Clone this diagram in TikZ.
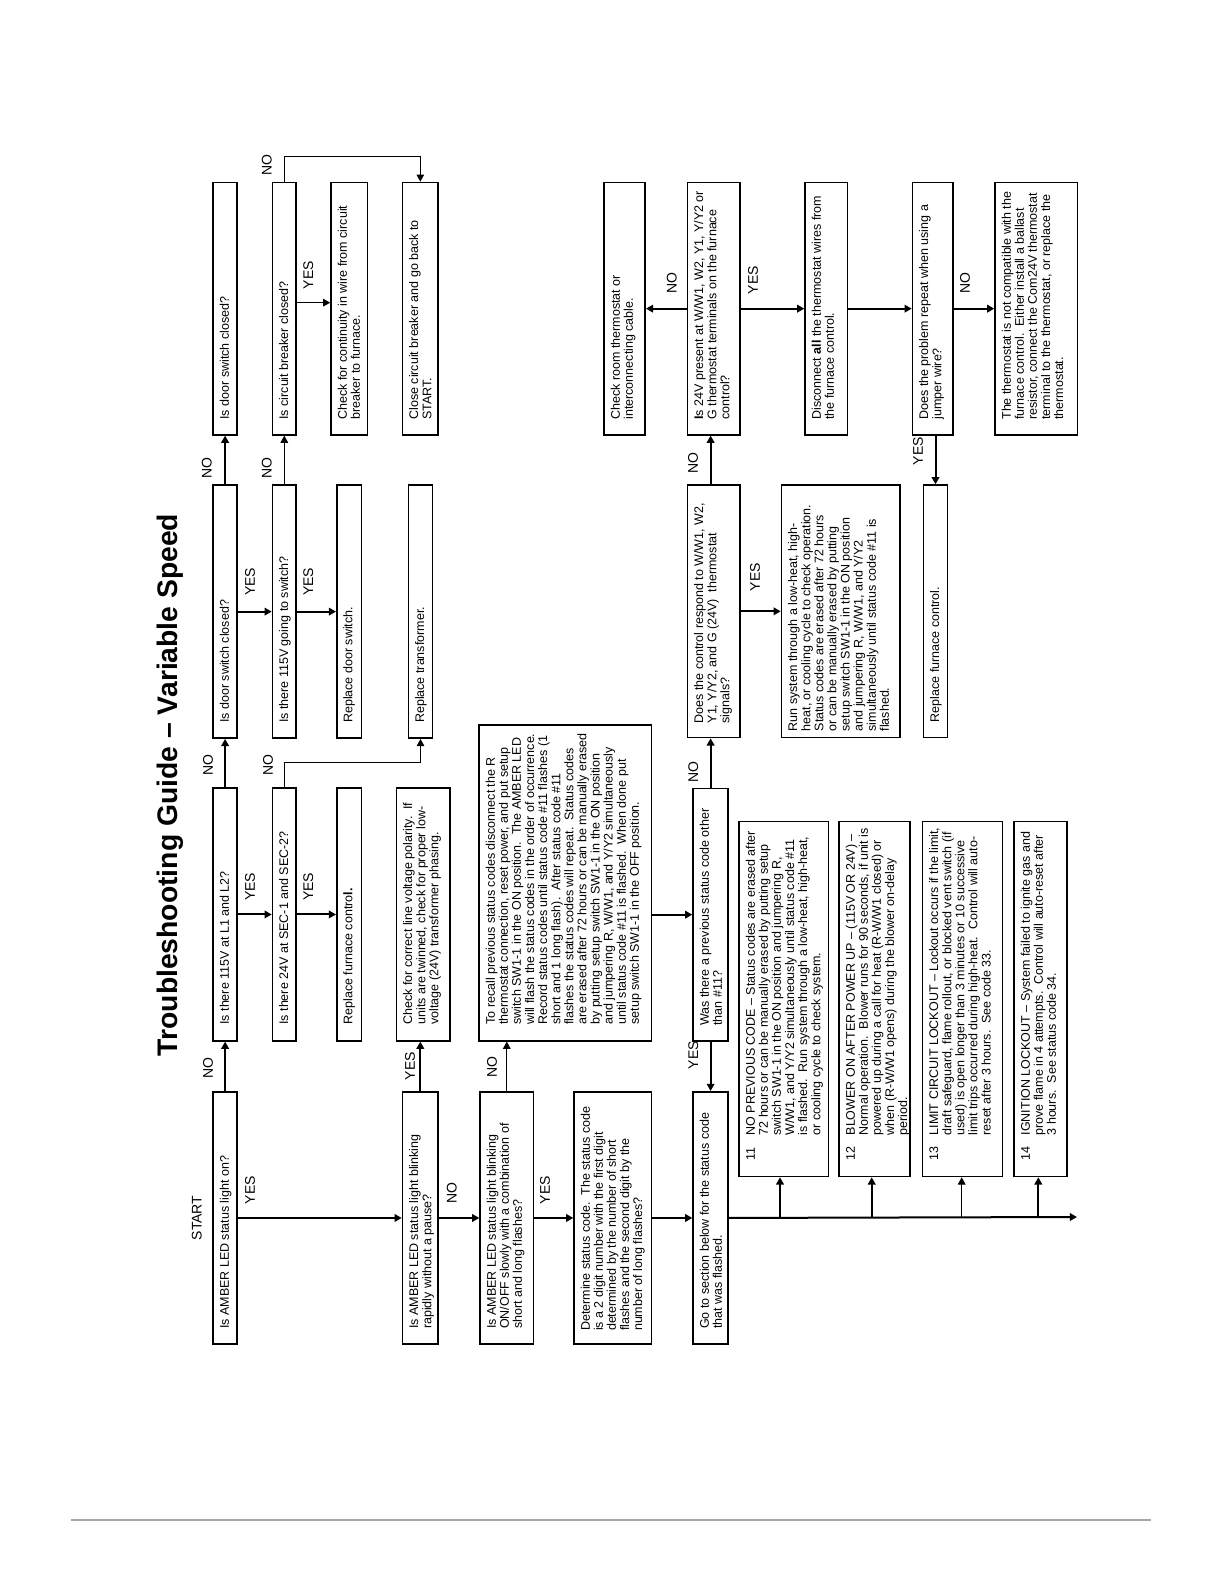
\documentclass[tikz,border=0pt]{standalone}
\usepackage{fontspec}
\setmainfont{Liberation Sans}
\usetikzlibrary{arrows.meta}
\tikzset{
  boxst/.style={draw, line width=0.8pt, inner sep=0pt, anchor=north west},
  txtst/.style={rotate=90, anchor=north west, inner sep=0pt, align=left, font=\fontsize{6.25}{6.55}\selectfont},
  lbl/.style={rotate=90, font=\fontsize{7}{8}\selectfont, inner sep=0pt},
  arr/.style={line width=1pt, -{Triangle[length=3.6pt,width=3.8pt]}},
  tarr/.style={line width=0.5pt, -{Triangle[length=3.6pt,width=3.8pt]}},
}
\newcommand\fbx[7]{%
  \node[boxst, minimum width={(#4-#2)*0.5pt}, minimum height={(#5-#3)*0.5pt}] (#1) at (#2,#3) {};
  \node[txtst] (#1t) at (#2+7,#5-#6) {#7};
}
\newcommand\hgap{\hspace*{12.5pt}}
\begin{document}
\begin{tikzpicture}[x=0.5pt,y=-0.5pt]
\useasboundingbox[fill=white] (0,0) rectangle (1224,1584);

% title
\node[rotate=90, font=\bfseries\fontsize{14.15}{17}\selectfont, inner sep=0pt] (title) at (170,785) {Troubleshooting Guide – Variable Speed};

% bottom column
\fbx{ledon}{212.3}{1091}{236.3}{1343.3}{14}{Is AMBER LED status light on?}
\fbx{rapid}{401.7}{1091}{437.3}{1343.3}{14}{Is AMBER LED status light blinking\\rapidly without a pause?}
\fbx{slow}{479.3}{1091}{532.7}{1343.3}{14}{Is AMBER LED status light blinking\\ON/OFF slowly with a combination of\\short and long flashes?}
\fbx{determine}{573.3}{1091}{650.7}{1343.3}{12}{Determine status code.\ \ The status code\\is a 2 digit number with the first digit\\determined by the number of short\\flashes and the second digit by the\\number of long flashes?}
\fbx{goto}{692.3}{1091}{727.3}{1343.3}{14}{Go to section below for the status code\\that was flashed.}

% second column
\fbx{l1l2}{212.3}{787.3}{236.3}{1040}{15}{Is there 115V at L1 and L2?}
\fbx{sec}{271.7}{787.3}{295.3}{1040}{15}{Is there 24V at SEC-1 and SEC-2?}
\fbx{repfca}{336}{787.3}{360.7}{1040}{15}{Replace furnace contro\textbf{l.}}
\fbx{polarity}{395.7}{787.3}{449.3}{1040}{15}{Check for correct line voltage polarity.\ \ If\\units are twinned, check for proper low-\\voltage (24V) transformer phasing.}
\fbx{recall}{478.3}{724.3}{650.7}{1040}{15}{To recall previous status codes disconnect the R\\thermostat connection, reset power, and put setup\\switch SW1-1 in the ON position.\ \ The AMBER LED\\will flash the status codes in the order of occurrence.\\Record status codes until status code \#11 flashes (1\\short and 1 long flash).\ \ After status code \#11\\flashes the status codes will repeat.\ \ Status codes\\are erased after 72 hours or can be manually erased\\by putting setup switch SW1-1 in the ON position\\and jumpering R, W/W1, and Y/Y2 simultaneously\\until status code \#11 is flashed.\ \ When done put\\setup switch SW1-1 in the OFF position.}
\fbx{prev}{692.3}{787.7}{727.3}{1040}{14}{Was there a previous status code other\\than \#11?}

% third column
\fbx{doora}{212.3}{484.3}{236.3}{737.3}{14}{Is door switch closed?}
\fbx{swv}{271.7}{484.3}{295.3}{737.3}{14}{Is there 115V going to switch?}
\fbx{repdoor}{336}{484.3}{360.7}{737.3}{14}{Replace door switch.}
\fbx{reptrans}{407.7}{484.3}{431.7}{737.3}{14}{Replace transformer.}
\fbx{respond}{686.7}{484.3}{739.3}{736.7}{13}{Does the control respond to W/W1, W2,\\Y1, Y/Y2, and G (24V)\ \ thermostat\\signals?}
\fbx{runsys}{780.7}{484.3}{899}{736.7}{5}{Run system through a low-heat, high-\\heat, or cooling cycle to check operation.\\Status codes are erased after 72 hours\\or can be manually erased by putting\\setup switch SW1-1 in the ON position\\and jumpering R, W/W1, and Y/Y2\\simultaneously until status code \#11 is\\flashed.}
\fbx{repfcb}{922.7}{484.3}{946.7}{736.7}{14}{Replace furnace control.}

% top column
\fbx{doorb}{212.3}{181.7}{236.3}{434}{14}{Is door switch closed?}
\fbx{breaker}{271.7}{181.7}{295.3}{434}{14}{Is circuit breaker closed?}
\fbx{continuity}{330.3}{181.7}{366.7}{434}{14}{Check for continuity in wire from circuit\\breaker to furnace.}
\fbx{closecb}{401.7}{181.7}{437.3}{434}{14}{Close circuit breaker and go back to\\START.}
\fbx{checkstat}{603.3}{181.7}{644.3}{434}{14}{Check room thermostat or\\interconnecting cable.}
\fbx{present}{686.7}{181.7}{739.3}{434}{14}{\textbf{I}s 24V present at W/W1, W2, Y1, Y/Y2 or\\G thermostat terminals on the furnace\\control?}
\fbx{disconnect}{804.3}{181.7}{846.7}{434}{14}{Disconnect \textbf{all} the thermostat wires from\\the furnace control.}
\fbx{jumper}{911.7}{181.7}{952.3}{434}{14}{Does the problem repeat when using a\\jumper wire?}
\fbx{notcompat}{994.3}{181.7}{1076.7}{434}{14}{The thermostat is not compatible with the\\furnace control.\ \ Either install a ballast\\resistor, connect the Com24V thermostat\\terminal to the thermostat, or replace the\\thermostat.}

% status code boxes
\fbx{sa}{738.3}{820.7}{827.7}{1175.7}{15}{\makebox[12.5pt][l]{11}NO PREVIOUS CODE – Status codes are erased after\\\hgap 72 hours or can be manually erased by putting setup\\\hgap switch SW1-1 in the ON position and jumpering R,\\\hgap W/W1, and Y/Y2 simultaneously until status code \#11\\\hgap is flashed.\ \ Run system through a low-heat, high-heat,\\\hgap or cooling cycle to check system.}
\fbx{sb}{838.3}{820.7}{909.3}{1175.7}{15}{\makebox[12.5pt][l]{12}BLOWER ON AFTER POWER UP – (115V OR 24V) –\\\hgap Normal operation.\ \ Blower runs for 90 seconds, if unit is\\\hgap powered up during a call for heat (R-W/W1 closed) or\\\hgap when (R-W/W1 opens) during the blower on-delay\\\hgap period.}
\fbx{sc}{921.7}{820.7}{1001.7}{1175.7}{15}{\makebox[12.5pt][l]{13}LIMIT CIRCUIT LOCKOUT – Lockout occurs if the limit,\\\hgap draft safeguard, flame rollout, or blocked vent switch (if\\\hgap used) is open longer than 3 minutes or 10 successive\\\hgap limit trips occurred during high-heat.\ \ Control will auto-\\\hgap reset after 3 hours.\ \ See code 33.}
\fbx{sd}{1013.3}{820.7}{1066}{1175.7}{15}{\makebox[12.5pt][l]{14}IGNITION LOCKOUT – System failed to ignite gas and\\\hgap prove flame in 4 attempts.\ \ Control will auto-reset after\\\hgap 3 hours.\ \ See status code 34.}

% connectors
\draw[arr] (ledon.east) -- (rapid.west);
\draw[arr] (rapid.east) -- (slow.west);
\draw[arr] (slow.east) -- (determine.west);
\draw[arr] (determine.east) -- (goto.west);
\draw[arr] (ledon.north) -- (l1l2.south);
\draw[arr] (rapid.north) -- (rapid.north |- polarity.south);
\draw[tarr] (slow.north) -- (slow.north |- recall.south);
\draw[arr] (l1l2.east) -- (sec.west);
\draw[arr] (sec.east) -- (repfca.west);
\draw[arr] (l1l2.north) -- (doora.south);
\coordinate (gn) at (0,762.7);
\draw[tarr] (sec.north) -- (sec.north |- gn) -| (reptrans.south);
\draw[arr] (doora.east) -- (swv.west);
\draw[arr] (swv.east) -- (repdoor.west);
\draw[arr] (doora.north) -- (doorb.south);
\draw[tarr] (swv.north) -- (breaker.south);
\draw[tarr] ([yshift=3pt]breaker.east) -- ([yshift=3pt]continuity.west);
\coordinate (pr) at (0,156);
\draw[tarr] (breaker.north) -- (breaker.north |- pr) -| (closecb.north);
\draw[arr] (recall.east |- prev.west) -- (prev.west);
\draw[arr] (prev.north) -- (prev.north |- respond.south);
\draw[arr] (prev.south) -- (prev.south |- goto.north);
\draw[arr] (respond.north -| prev.north) -- (present.south -| prev.north);
\draw[arr] (respond.east) -- (runsys.west);
\draw[arr] (present.west) -- (checkstat.east);
\draw[arr] (present.east) -- (disconnect.west);
\draw[arr] (disconnect.east) -- (jumper.west);
\draw[arr] (jumper.east) -- (notcompat.west);
\draw[arr] (jumper.south -| repfcb.north) -- (repfcb.north);

% status bus
\coordinate (busend) at (1077,1217);
\coordinate (ba) at (780,1217);
\coordinate (bb) at (871.7,1217);
\coordinate (bc) at (961.7,1217);
\coordinate (bd) at (1038.3,1217);
\draw[arr] (goto.east) -- (busend);
\draw[arr] (ba) -- (ba |- sa.south);
\draw[arr] (bb) -- (bb |- sb.south);
\draw[tarr] (bc) -- (bc |- sc.south);
\draw[arr] (bd) -- (bd |- sd.south);

% labels
\node[lbl] (L0) at (196.7,1218) {START};
\node[lbl] (L1) at (250,1190) {YES};
\node[lbl] (L2) at (451.7,1193) {NO};
\node[lbl] (L3) at (545,1190) {YES};
\node[lbl] (L4) at (208,1068) {NO};
\node[lbl] (L5) at (410,1066) {YES};
\node[lbl] (L6) at (492,1067) {NO};
\node[lbl] (L7) at (250,886.7) {YES};
\node[lbl] (L8) at (308.3,886.7) {YES};
\node[lbl] (L9) at (208,765) {NO};
\node[lbl] (L10) at (268,765) {NO};
\node[lbl] (L11) at (250,581.7) {YES};
\node[lbl] (L12) at (308.3,581.7) {YES};
\node[lbl] (L13) at (206.7,468.3) {NO};
\node[lbl] (L14) at (266.7,468.3) {NO};
\node[lbl] (L15) at (308.3,275) {YES};
\node[lbl] (L16) at (266.7,165) {NO};
\node[lbl] (L17) at (693,463) {NO};
\node[lbl] (L18) at (671.7,283) {NO};
\node[lbl] (L19) at (753,280) {YES};
\node[lbl] (L20) at (965,283) {NO};
\node[lbl] (L21) at (918,451) {YES};
\node[lbl] (L22) at (755,577) {YES};
\node[lbl] (L23) at (693.3,771.7) {NO};
\node[lbl] (L24) at (693.3,1055) {YES};

% footer rule
\draw[gray!70, line width=0.6pt] (71,1520) -- (1151,1520);
\end{tikzpicture}
\end{document}
